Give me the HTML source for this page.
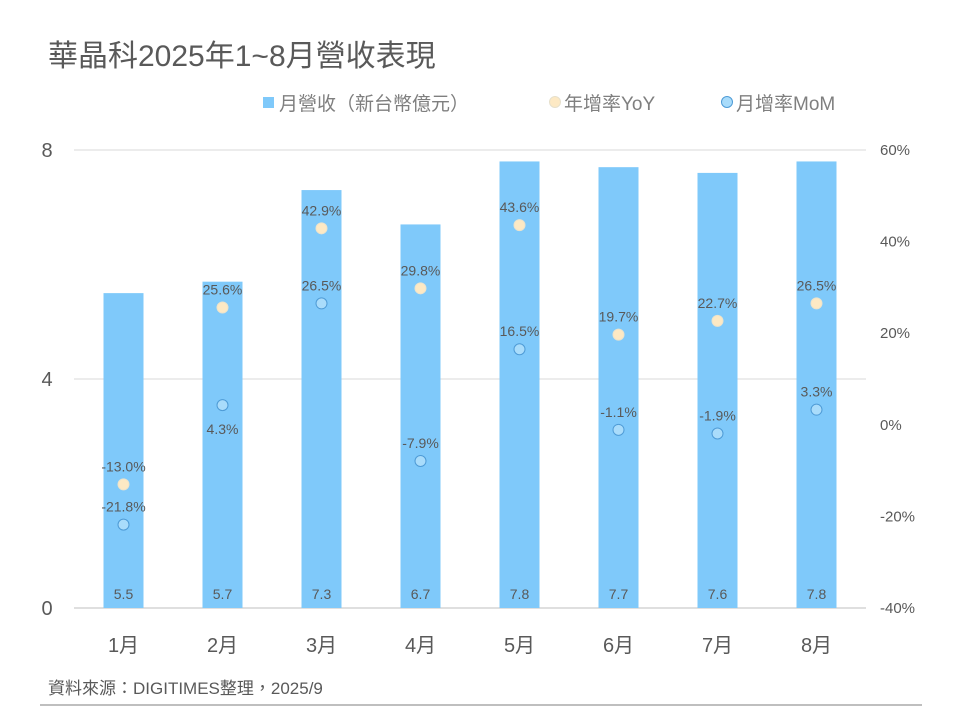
<!DOCTYPE html>
<html><head><meta charset="utf-8"><style>
body{margin:0;background:#fff;}
svg text{font-family:"Liberation Sans","Noto Sans CJK TC",sans-serif;}
</style></head><body>
<svg width="960" height="720" viewBox="0 0 960 720" xmlns="http://www.w3.org/2000/svg">
<text x="48" y="66" font-size="30" fill="#595959">華晶科2025年1~8月營收表現</text>
<g>
<g><rect x="263" y="97" width="11" height="11" fill="#7FC9FA"/><text x="279" y="110" font-size="19" fill="#7f7f7f">月營收（新台幣億元）</text></g>
<g><circle cx="555" cy="102" r="5.5" fill="#FDE9C4" stroke="#e6e0cc"/><text x="564" y="110" font-size="19" fill="#7f7f7f">年增率YoY</text></g>
<g><circle cx="727" cy="102" r="5.5" fill="#A9DCFB" stroke="#4E9BD6"/><text x="736" y="110" font-size="19" fill="#7f7f7f">月增率MoM</text></g>
</g>
<g id="grid"></g>
<g id="bars"></g>
<g id="pts"></g>
<g id="axes"></g>
<text x="48" y="694" font-size="17" fill="#595959">資料來源：DIGITIMES整理，2025/9</text>
<line x1="40" y1="705" x2="922" y2="705" stroke="#7f7f7f" stroke-width="1"/>
</svg>
<script>
const categories=["1月","2月","3月","4月","5月","6月","7月","8月"];
const revenue=[5.5,5.7,7.3,6.7,7.8,7.7,7.6,7.8];
const yoy=[-13.0,25.6,42.9,29.8,43.6,19.7,22.7,26.5];
const mom=[-21.8,4.3,26.5,-7.9,16.5,-1.1,-1.9,3.3];
const leftTicks=[0,4,8];
const rightTicks=[-40,-20,0,20,40,60];
const momLabelBelow=[false,true,false,false,false,false,false,false];

const NS="http://www.w3.org/2000/svg";
const x0=74,x1=866,yTop=150,yBot=608;
const band=(x1-x0)/categories.length;
const xc=i=>x0+band*(i+0.5);
const yL=v=>yBot-(v/8)*(yBot-yTop);
const yR=v=>yBot-((v+40)/100)*(yBot-yTop);
function mk(tag,attrs,parent,txt){const e=document.createElementNS(NS,tag);for(const k in attrs)e.setAttribute(k,attrs[k]);if(txt!==undefined)e.textContent=txt;parent.appendChild(e);return e;}
const grid=document.getElementById('grid'),bars=document.getElementById('bars'),pts=document.getElementById('pts'),axes=document.getElementById('axes');
leftTicks.forEach(t=>{
 const l=mk('line',{x1:x0,x2:x1,y1:yL(t),y2:yL(t),stroke:t===0?'#bfbfbf':'#d9d9d9','stroke-width':1},grid);
 
 
 const tx=mk('text',{x:47,y:yL(t)+7,'font-size':20,fill:'#595959','text-anchor':'middle'},axes,String(t));
 
 
});
rightTicks.forEach(t=>{
 const tx=mk('text',{x:880,y:yR(t)+5,'font-size':15,fill:'#595959'},axes,t+'%');
 
 
});
categories.forEach((c,i)=>{
 const b=mk('rect',{x:xc(i)-20,y:yL(revenue[i]),width:40,height:yBot-yL(revenue[i]),fill:'#7FC9FA'},bars);
 
 
 const bl=mk('text',{x:xc(i),y:599,'font-size':14,fill:'#595959','text-anchor':'middle'},bars,revenue[i].toFixed(1));
 
 
 const cl=mk('text',{x:xc(i),y:652,'font-size':20,fill:'#595959','text-anchor':'middle'},axes,c);
 
 
 const py=mk('circle',{cx:xc(i),cy:yR(yoy[i]),r:5.5,fill:'#FDE9C4',stroke:'#ece3cc'},pts);
 
 
 const ly=mk('text',{x:xc(i),y:yR(yoy[i])-13,'font-size':14,fill:'#595959','text-anchor':'middle'},pts,yoy[i].toFixed(1)+'%');
 
 
 const pm=mk('circle',{cx:xc(i),cy:yR(mom[i]),r:5.5,fill:'#A9DCFB',stroke:'#4E9BD6'},pts);
 
 
 const lm=mk('text',{x:xc(i),y:momLabelBelow[i]?yR(mom[i])+29:yR(mom[i])-13,'font-size':14,fill:'#595959','text-anchor':'middle'},pts,mom[i].toFixed(1)+'%');
 
 
});
</script>
</body></html>
